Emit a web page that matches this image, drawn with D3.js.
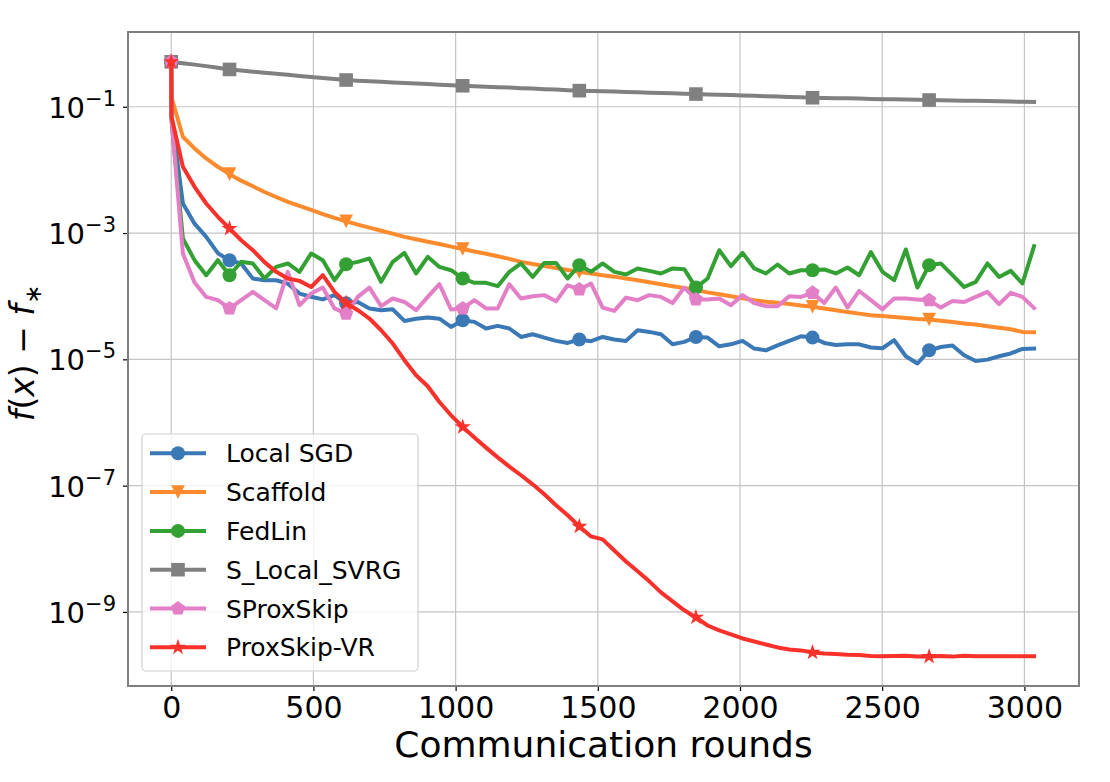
<!DOCTYPE html>
<html>
<head>
<meta charset="utf-8">
<script src="https://cdn.jsdelivr.net/npm/d3@7"></script>
<style>
  body { margin: 0; background: #fff; }
  svg { font-family: "DejaVu Sans", sans-serif; }
</style>
</head>
<body>
<svg id="chart"></svg>
<script>
// communication rounds at which the loss was logged
const rounds = [0, 1, 41, 82, 123, 164, 205, 246, 287, 328, 369, 410, 451, 492, 533, 574, 615, 656, 697, 738,
  779, 820, 861, 902, 943, 984, 1025, 1066, 1107, 1148, 1189, 1230, 1271, 1312, 1353, 1394, 1435, 1476, 1517, 1558,
  1599, 1640, 1681, 1722, 1763, 1804, 1845, 1886, 1927, 1968, 2009, 2050, 2091, 2132, 2173, 2214, 2255, 2296, 2337,
  2378, 2419, 2460, 2501, 2542, 2583, 2624, 2665, 2706, 2747, 2788, 2829, 2870, 2911, 2952, 2993, 3034];
const markerRounds = [0, 205, 615, 1025, 1435, 1845, 2255, 2665];

const localSGD = [0.516, 0.07, 0.00295, 0.00141, 8.7e-4, 4.8e-4, 3.7e-4, 3.3e-4, 1.9e-4, 1.79e-4, 1.79e-4, 1.58e-4,
  1.1e-4, 9.8e-5, 8.9e-5, 1.04e-4, 7.7e-5, 8.1e-5, 6.4e-5, 6.0e-5, 6.2e-5, 4.06e-5, 4.4e-5, 4.6e-5, 4.4e-5, 3.26e-5,
  4.17e-5, 3.92e-5, 3.08e-5, 3.39e-5, 3.08e-5, 2.26e-5, 2.5e-5, 2.21e-5, 1.96e-5, 1.82e-5, 2.06e-5, 1.94e-5, 2.26e-5,
  2.06e-5, 1.96e-5, 2.89e-5, 2.72e-5, 2.5e-5, 1.73e-5, 1.89e-5, 2.26e-5, 2.21e-5, 1.61e-5, 1.73e-5, 1.96e-5, 1.48e-5,
  1.39e-5, 1.66e-5, 1.96e-5, 2.32e-5, 2.21e-5, 1.82e-5, 1.69e-5, 1.73e-5, 1.73e-5, 1.54e-5, 1.5e-5, 2.01e-5, 1.12e-5,
  8.6e-6, 1.39e-5, 1.57e-5, 1.66e-5, 1.16e-5, 9.4e-6, 9.9e-6, 1.12e-5, 1.24e-5, 1.46e-5, 1.48e-5];

const scaffold = [0.516, 0.14, 0.0335, 0.0219, 0.0152, 0.0112, 0.00857, 0.00676, 0.0055, 0.00447, 0.00372, 0.00312,
  0.00269, 0.00232, 0.002, 0.00174, 0.00153, 0.00136, 0.00122, 0.00109, 9.8e-4, 8.7e-4, 8.0e-4, 7.3e-4, 6.7e-4, 6.1e-4,
  5.6e-4, 5.1e-4, 4.7e-4, 4.3e-4, 3.9e-4, 3.5e-4, 3.24e-4, 3.0e-4, 2.8e-4, 2.6e-4, 2.43e-4, 2.29e-4, 2.14e-4, 2.04e-4,
  1.9e-4, 1.79e-4, 1.66e-4, 1.55e-4, 1.44e-4, 1.35e-4, 1.25e-4, 1.15e-4, 1.07e-4, 1.0e-4, 9.3e-5, 8.6e-5, 8.2e-5,
  7.85e-5, 7.5e-5, 7.1e-5, 6.8e-5, 6.4e-5, 6.0e-5, 5.6e-5, 5.3e-5, 5.0e-5, 4.84e-5, 4.68e-5, 4.52e-5, 4.37e-5, 4.27e-5,
  4.07e-5, 3.9e-5, 3.7e-5, 3.55e-5, 3.35e-5, 3.16e-5, 3.0e-5, 2.72e-5, 2.69e-5];

const fedLin = [0.516, 0.06, 8.2e-4, 3.72e-4, 2.15e-4, 3.72e-4, 2.15e-4, 3.5e-4, 3.3e-4, 1.91e-4, 2.91e-4, 3.3e-4,
  2.43e-4, 4.75e-4, 3.72e-4, 1.79e-4, 3.21e-4, 3.5e-4, 3.95e-4, 1.69e-4, 3.5e-4, 4.85e-4, 2.29e-4, 4.2e-4, 2.91e-4,
  2.58e-4, 1.91e-4, 1.63e-4, 1.63e-4, 1.44e-4, 2.43e-4, 3.3e-4, 2.02e-4, 3.37e-4, 3.37e-4, 1.91e-4, 3.1e-4, 2.43e-4,
  3.3e-4, 2.43e-4, 2.21e-4, 2.75e-4, 2.52e-4, 2.29e-4, 2.75e-4, 2.68e-4, 1.37e-4, 1.91e-4, 5.35e-4, 2.99e-4, 4.85e-4,
  2.75e-4, 2.29e-4, 3.18e-4, 2.29e-4, 2.58e-4, 2.58e-4, 2.65e-4, 2.29e-4, 2.85e-4, 2.15e-4, 5.0e-4, 2.43e-4, 1.79e-4,
  5.5e-4, 1.37e-4, 3.1e-4, 3.3e-4, 2.15e-4, 1.4e-4, 1.69e-4, 3.3e-4, 2.02e-4, 2.52e-4, 1.59e-4, 6.2e-4];

const sLocalSVRG = [0.516, 0.513, 0.49, 0.465, 0.44, 0.415, 0.39, 0.375, 0.36, 0.345, 0.333, 0.32, 0.308, 0.296,
  0.285, 0.275, 0.265, 0.259, 0.254, 0.248, 0.243, 0.238, 0.234, 0.229, 0.224, 0.219, 0.215, 0.211, 0.208, 0.204,
  0.201, 0.197, 0.194, 0.19, 0.187, 0.183, 0.18, 0.178, 0.176, 0.174, 0.171, 0.169, 0.167, 0.165, 0.163, 0.161, 0.159,
  0.157, 0.155, 0.153, 0.151, 0.149, 0.147, 0.145, 0.143, 0.141, 0.139, 0.138, 0.137, 0.136, 0.135, 0.133, 0.132,
  0.131, 0.13, 0.129, 0.128, 0.127, 0.126, 0.125, 0.124, 0.123, 0.122, 0.121, 0.12, 0.119];

const sProxSkip = [0.516, 0.065, 4.75e-4, 1.65e-4, 9.75e-5, 8.65e-5, 6.4e-5, 8.65e-5, 1.17e-4, 8.65e-5, 6.4e-5,
  2.43e-4, 7.2e-5, 1.1e-4, 1.37e-4, 6.4e-5, 5.3e-5, 9.75e-5, 1.37e-4, 6.95e-5, 9.2e-5, 8.1e-5, 6.0e-5, 9.75e-5,
  1.55e-4, 6.15e-5, 6.4e-5, 8.65e-5, 6.4e-5, 6.4e-5, 1.55e-4, 9.2e-5, 1.0e-4, 1.04e-4, 8.3e-5, 1.49e-4, 1.28e-4,
  1.59e-4, 6.6e-5, 5.85e-5, 9.5e-5, 8.65e-5, 1.04e-4, 9.75e-5, 7.8e-5, 1.37e-4, 8.9e-5, 8.9e-5, 9.2e-5, 7.2e-5,
  1.04e-4, 7.8e-5, 6.95e-5, 6.95e-5, 1.0e-4, 9.75e-5, 1.13e-4, 7.8e-5, 1.37e-4, 6.6e-5, 1.21e-4, 8.65e-5, 6.2e-5,
  9.2e-5, 9.2e-5, 8.9e-5, 8.65e-5, 6.6e-5, 8.4e-5, 8.1e-5, 9.75e-5, 1.17e-4, 7.5e-5, 1.13e-4, 9.75e-5, 6.5e-5];

const proxSkipVR = [0.516, 0.0695, 0.0112, 0.0054, 0.00294, 0.00181, 0.00118, 7.7e-4, 5.35e-4, 3.46e-4, 2.43e-4,
  1.91e-4, 1.75e-4, 1.4e-4, 2.15e-4, 1.17e-4, 7.8e-5, 6.0e-5, 4.43e-5, 2.89e-5, 1.78e-5, 9.7e-6, 5.6e-6, 3.75e-6,
  2.11e-6, 1.3e-6, 8.5e-7, 5.8e-7, 4.0e-7, 2.8e-7, 2.0e-7, 1.46e-7, 1.05e-7, 7.3e-8, 4.9e-8, 3.4e-8, 2.26e-8, 1.57e-8,
  1.41e-8, 9.4e-9, 6.3e-9, 4.4e-9, 3.05e-9, 2.04e-9, 1.47e-9, 1.06e-9, 8.2e-10, 6.1e-10, 5.1e-10, 4.4e-10, 3.8e-10,
  3.4e-10, 3.05e-10, 2.74e-10, 2.55e-10, 2.46e-10, 2.28e-10, 2.2e-10, 2.15e-10, 2.1e-10, 2.08e-10, 2.0e-10, 1.98e-10,
  2.0e-10, 2.02e-10, 1.97e-10, 1.96e-10, 2.0e-10, 1.96e-10, 2.02e-10, 1.99e-10, 1.98e-10, 1.98e-10, 1.98e-10,
  1.98e-10, 1.98e-10];

const seriesNames = ["Local SGD", "Scaffold", "FedLin", "S_Local_SVRG", "SProxSkip", "ProxSkip-VR"];
const seriesValues = [localSGD, scaffold, fedLin, sLocalSVRG, sProxSkip, proxSkipVR];
const seriesColors = ["#3a78b6", "#fd8a2c", "#33a033", "#808080", "#e27fc6", "#f8322a"];
const seriesMarkers = ["circle", "triangleDown", "circle", "square", "pentagon", "star"];

const xTicks = [0, 500, 1000, 1500, 2000, 2500, 3000];
const yTickExps = [-1, -3, -5, -7, -9];

const width = 1110, height = 782;
const plot = { left: 128, right: 1079, top: 32, bottom: 686 };

const svg = d3.select("#chart").attr("width", width).attr("height", height);

const x = d3.scaleLinear().domain([-152, 3192]).range([plot.left, plot.right]);
const y = d3.scaleLog().domain([Math.pow(10, -10.173), Math.pow(10, 0.184)]).range([plot.bottom, plot.top]);

// grid
const grid = svg.append("g");
grid.selectAll("line.gx").data(xTicks).join("line")
  .attr("x1", d => x(d)).attr("x2", d => x(d))
  .attr("y1", plot.top).attr("y2", plot.bottom)
  .attr("stroke", "#c4c4c4").attr("stroke-width", 1.2);
grid.selectAll("line.gy").data(yTickExps).join("line")
  .attr("x1", plot.left).attr("x2", plot.right)
  .attr("y1", d => y(Math.pow(10, d))).attr("y2", d => y(Math.pow(10, d)))
  .attr("stroke", "#c4c4c4").attr("stroke-width", 1.2);

// axes
const xAxis = svg.append("g")
  .attr("transform", `translate(0,${plot.bottom})`)
  .call(d3.axisBottom(x).tickValues(xTicks).tickSize(5).tickPadding(6).tickFormat(d3.format("d")));
xAxis.select(".domain").remove();
xAxis.selectAll("text").attr("font-size", 30).attr("font-family", "DejaVu Sans").attr("fill", "#000");
xAxis.selectAll("line").attr("stroke", "#000").attr("stroke-width", 1.2);

const yAxis = svg.append("g")
  .attr("transform", `translate(${plot.left},0)`)
  .call(d3.axisLeft(y).tickValues(yTickExps.map(e => Math.pow(10, e))).tickSize(5).tickFormat(""));
yAxis.select(".domain").remove();
yAxis.selectAll("line").attr("stroke", "#000").attr("stroke-width", 1.2);

const yLabels = svg.append("g");
yTickExps.forEach(e => {
  const t = yLabels.append("text")
    .attr("x", 116).attr("y", y(Math.pow(10, e)) + 11)
    .attr("text-anchor", "end").attr("font-size", 29).attr("fill", "#000");
  t.append("tspan").text("10");
  t.append("tspan").attr("font-size", 21).attr("dy", -12).text("\u2212" + Math.abs(e));
});

// lines
const line = d3.line().x(d => x(d[0])).y(d => y(d[1]));

function markerPath(kind, r) {
  if (kind === "circle") return d3.symbol(d3.symbolCircle, Math.PI * r * r)();
  if (kind === "square") return `M${-r},${-r}H${r}V${r}H${-r}Z`;
  if (kind === "triangleDown") return `M${-r},${-r}L${r},${-r}L0,${r}Z`;
  if (kind === "pentagon" || kind === "star") {
    const n = kind === "star" ? 10 : 5;
    const pts = d3.range(n).map(k => {
      const a = -Math.PI / 2 + k * 2 * Math.PI / n;
      const rr = kind === "star" && k % 2 ? r * 0.382 : r;
      return [rr * Math.cos(a), rr * Math.sin(a)];
    });
    return "M" + pts.map(p => p.join(",")).join("L") + "Z";
  }
}
const markerSize = { circle: 7, square: 6.8, triangleDown: 6.8, pentagon: 7.5, star: 8.5 };

seriesValues.forEach((vals, s) => {
  const pts = rounds.map((r, i) => [r, vals[i]]);
  const g = svg.append("g");
  g.append("path").datum(pts)
    .attr("d", line)
    .attr("fill", "none")
    .attr("stroke", seriesColors[s])
    .attr("stroke-width", 4)
    .attr("stroke-linejoin", "round")
    .attr("stroke-linecap", "square");
  g.selectAll("path.m").data(pts.filter(p => markerRounds.includes(p[0]))).join("path")
    .attr("class", "m")
    .attr("transform", d => `translate(${x(d[0])},${y(d[1])})`)
    .attr("d", markerPath(seriesMarkers[s], markerSize[seriesMarkers[s]]))
    .attr("fill", seriesColors[s]);
});

// frame
svg.append("rect")
  .attr("x", plot.left).attr("y", plot.top)
  .attr("width", plot.right - plot.left).attr("height", plot.bottom - plot.top)
  .attr("fill", "none").attr("stroke", "#7f7f7f").attr("stroke-width", 2);

// legend
const legend = svg.append("g");
legend.append("rect")
  .attr("x", 142).attr("y", 434).attr("width", 276).attr("height", 237).attr("rx", 4)
  .attr("fill", "#fff").attr("fill-opacity", 0.8)
  .attr("stroke", "#d0d0d0").attr("stroke-width", 1.2);
seriesNames.forEach((name, s) => {
  const cy = 453.3 + s * 38.8;
  legend.append("line")
    .attr("x1", 150).attr("x2", 206).attr("y1", cy).attr("y2", cy)
    .attr("stroke", seriesColors[s]).attr("stroke-width", 4);
  legend.append("path")
    .attr("transform", `translate(178,${cy})`)
    .attr("d", markerPath(seriesMarkers[s], markerSize[seriesMarkers[s]]))
    .attr("fill", seriesColors[s]);
  legend.append("text")
    .attr("x", 226).attr("y", cy + 9)
    .attr("font-size", 25).attr("fill", "#000")
    .text(name);
});

// axis titles
svg.append("text")
  .attr("x", (plot.left + plot.right) / 2).attr("y", 757)
  .attr("text-anchor", "middle").attr("font-size", 36).attr("fill", "#000")
  .text("Communication rounds");

const yTitle = svg.append("text")
  .attr("transform", `translate(34,${(plot.top + plot.bottom) / 2 - 6}) rotate(-90)`)
  .attr("text-anchor", "middle").attr("font-size", 33).attr("fill", "#000");
yTitle.append("tspan").attr("font-style", "italic").text("f");
yTitle.append("tspan").text("(");
yTitle.append("tspan").attr("font-style", "italic").text("x");
yTitle.append("tspan").text(") \u2212 ");
yTitle.append("tspan").attr("font-style", "italic").text("f");
yTitle.append("tspan").attr("font-size", 23).attr("dy", 7).text("\u2217");
</script>
</body>
</html>
